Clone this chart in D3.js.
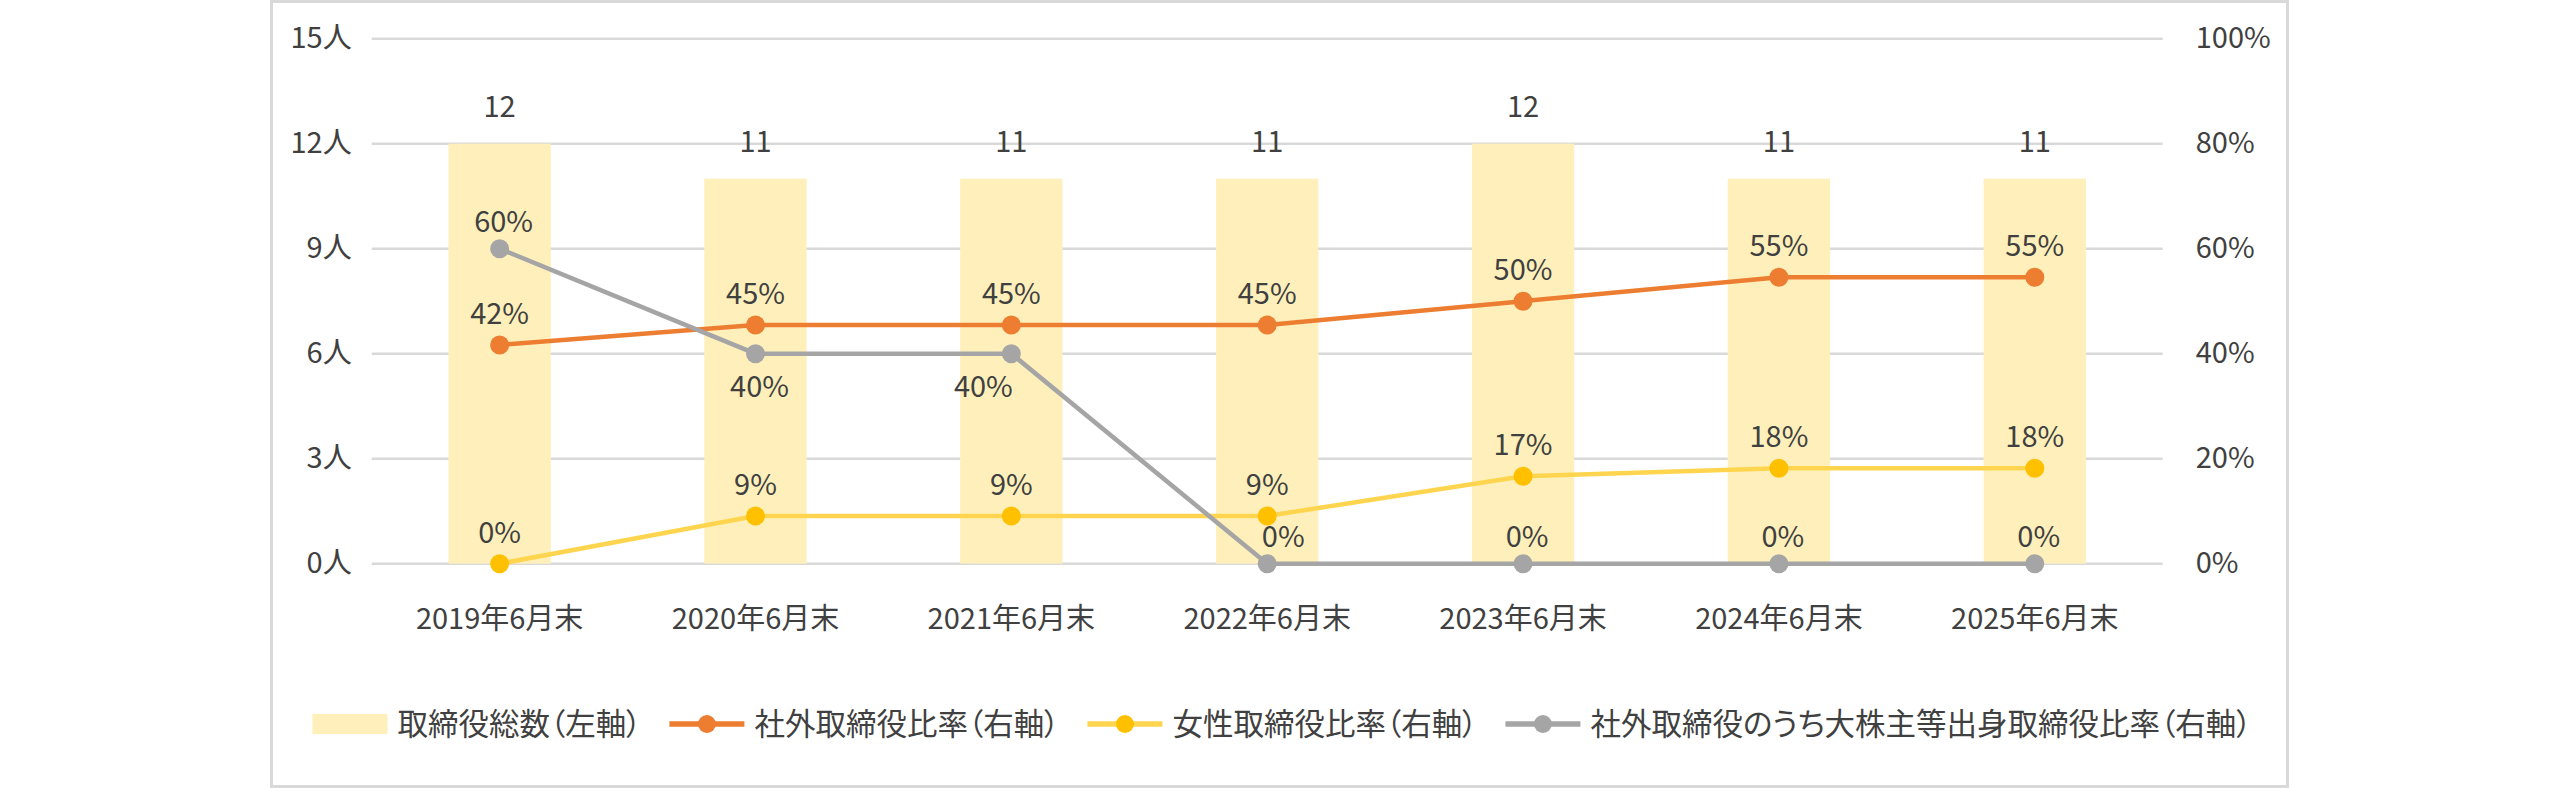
<!DOCTYPE html>
<html>
<head>
<meta charset="utf-8">
<script src="https://cdn.jsdelivr.net/npm/d3@7"></script>
<style>
  body { margin: 0; background: #fff; }
  svg text { font-family: "Noto Sans CJK JP", "Noto Sans", sans-serif; fill: #404040; }
  .legend text { font-feature-settings: "palt"; }
</style>
</head>
<body>
<svg id="chart" width="2560" height="788"></svg>
<script>
// data
const categories = ["2019年6月末", "2020年6月末", "2021年6月末", "2022年6月末", "2023年6月末", "2024年6月末", "2025年6月末"];
const directorsTotal = [12, 11, 11, 11, 12, 11, 11];
const outsideRatio = [41.67, 45.45, 45.45, 45.45, 50.0, 54.55, 54.55];
const femaleRatio = [0, 9.09, 9.09, 9.09, 16.67, 18.18, 18.18];
const majorShareholderRatio = [60, 40, 40, 0, 0, 0, 0];
const leftTicks = [0, 3, 6, 9, 12, 15];
const rightTicks = [0, 20, 40, 60, 80, 100];
const seriesNames = ["取締役総数（左軸）", "社外取締役比率（右軸）", "女性取締役比率（右軸）", "社外取締役のうち大株主等出身取締役比率（右軸）"];
// where each grey label goes (above / below the point)
const greyLabelSide = ["above", "below", "below", "above", "above", "above", "above"];

const plot = {left: 371.7, right: 2162.7, top: 38.7, bottom: 563.7};
const fontSize = 29;

const svg = d3.select("#chart");

// frame
svg.append("rect")
    .attr("x", 271.5).attr("y", 1.5)
    .attr("width", 2016).attr("height", 785)
    .attr("fill", "#fff")
    .attr("stroke", "#d9d9d9")
    .attr("stroke-width", 3);

const x = d3.scaleBand()
    .domain(categories)
    .range([plot.left, plot.right])
    .paddingInner(0.6)
    .paddingOuter(0.3);

const yLeft = d3.scaleLinear().domain([0, 15]).range([plot.bottom, plot.top]);
const yRight = d3.scaleLinear().domain([0, 100]).range([plot.bottom, plot.top]);

const cx = d => x(d) + x.bandwidth() / 2;

// gridlines
svg.append("g").selectAll("line")
    .data(leftTicks)
    .enter().append("line")
        .attr("x1", plot.left).attr("x2", plot.right)
        .attr("y1", d => yLeft(d)).attr("y2", d => yLeft(d))
        .attr("stroke", "#d9d9d9")
        .attr("stroke-width", 2.5);

// axes
const leftAxis = svg.append("g")
    .attr("transform", `translate(${plot.left},0)`)
    .call(d3.axisLeft(yLeft).tickValues(leftTicks).tickFormat(d => d + "人").tickSize(0).tickPadding(20));

const rightAxis = svg.append("g")
    .attr("transform", `translate(${plot.right},0)`)
    .call(d3.axisRight(yRight).tickValues(rightTicks).tickFormat(d => d + "%").tickSize(0).tickPadding(33));

const bottomAxis = svg.append("g")
    .attr("transform", `translate(0,${plot.bottom})`)
    .call(d3.axisBottom(x).tickSize(0).tickPadding(45));

[leftAxis, rightAxis, bottomAxis].forEach(a => {
    a.select(".domain").remove();
    a.selectAll("text")
        .attr("font-size", fontSize)
        .style("fill", "#404040");
    a.attr("font-family", null);
});

// bars
svg.append("g").selectAll("rect")
    .data(directorsTotal)
    .enter().append("rect")
        .attr("x", (d, i) => x(categories[i]))
        .attr("y", d => yLeft(d))
        .attr("width", x.bandwidth())
        .attr("height", d => plot.bottom - yLeft(d))
        .attr("fill", "#fff0bb");

const lineSeries = [
    {values: outsideRatio, line: "#ed7d31", marker: "#ed7d31"},
    {values: femaleRatio, line: "#ffd54f", marker: "#ffc000"},
    {values: majorShareholderRatio, line: "#a5a5a5", marker: "#a5a5a5"}
];

const line = d3.line()
    .x((d, i) => cx(categories[i]))
    .y(d => yRight(d));

lineSeries.forEach(s => {
    const g = svg.append("g");
    g.append("path")
        .datum(s.values)
        .attr("d", line)
        .attr("fill", "none")
        .attr("stroke", s.line)
        .attr("stroke-width", 4.5);
    g.selectAll("circle")
        .data(s.values)
        .enter().append("circle")
            .attr("cx", (d, i) => cx(categories[i]))
            .attr("cy", d => yRight(d))
            .attr("r", 9.5)
            .attr("fill", s.marker);
});

// labels
const labels = svg.append("g").attr("font-size", fontSize).attr("text-anchor", "middle");

labels.selectAll(".bar-label")
    .data(directorsTotal)
    .enter().append("text")
        .attr("class", "bar-label")
        .attr("x", (d, i) => cx(categories[i]))
        .attr("y", d => yLeft(d) - 27)
        .text(d => d);

labels.selectAll(".outside-label")
    .data(outsideRatio)
    .enter().append("text")
        .attr("class", "outside-label")
        .attr("x", (d, i) => cx(categories[i]))
        .attr("y", d => yRight(d) - 21)
        .text(d => Math.round(d) + "%");

labels.selectAll(".female-label")
    .data(femaleRatio)
    .enter().append("text")
        .attr("class", "female-label")
        .attr("x", (d, i) => cx(categories[i]))
        .attr("y", d => yRight(d) - 21)
        .text(d => Math.round(d) + "%");

labels.selectAll(".major-label")
    .data(majorShareholderRatio)
    .enter().append("text")
        .attr("class", "major-label")
        .attr("x", (d, i) => cx(categories[i]) + (i == 2 ? -28 : i == 3 ? 16 : 4))
        .attr("y", (d, i) => greyLabelSide[i] == "below" ? yRight(d) + 43 : yRight(d) - 17)
        .text(d => Math.round(d) + "%");

// legend
const legend = svg.append("g").attr("class", "legend").attr("font-size", 30.5);
const symW = 75, textGap = 10, itemGap = 28;
let lx = 0;
seriesNames.forEach((name, i) => {
    const item = legend.append("g");
    if (i == 0) {
        item.append("rect")
            .attr("x", 0).attr("y", -10)
            .attr("width", symW).attr("height", 20)
            .attr("fill", "#fff0bb");
    } else {
        const s = lineSeries[i - 1];
        item.append("line")
            .attr("x1", 0).attr("x2", symW)
            .attr("y1", 0).attr("y2", 0)
            .attr("stroke", s.line)
            .attr("stroke-width", 5.5);
        item.append("circle")
            .attr("cx", symW / 2).attr("cy", 0)
            .attr("r", 9)
            .attr("fill", s.marker);
    }
    const t = item.append("text")
        .attr("x", symW + textGap)
        .attr("dy", "0.36em")
        .text(name);
    const w = symW + textGap + t.node().getComputedTextLength();
    item.attr("transform", `translate(${lx},0)`);
    lx += w + itemGap;
});
const legendW = lx - itemGap;
legend.attr("transform", `translate(${1282 - legendW / 2},724)`);
</script>
</body>
</html>
